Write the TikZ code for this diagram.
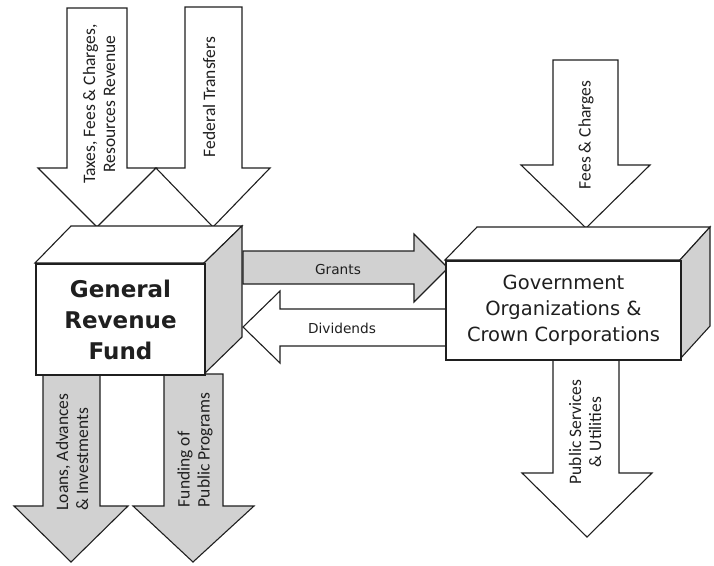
\documentclass[tikz,border=0pt]{standalone}
\usepackage{fontspec}
\newfontfamily\boxfont{DejaVu Sans}
\newfontfamily\arrfont{Carlito}
\definecolor{shade}{gray}{0.82}
\definecolor{ink}{gray}{0.12}
\tikzset{
  arr/.style={draw=ink, line width=1.1pt, line join=miter},
  whitearr/.style={arr, fill=white},
  grayarr/.style={arr, fill=shade},
  face/.style={draw=ink, line width=1.1pt, line join=miter},
  frontface/.style={draw=ink, line width=2pt, fill=white},
  rlabel/.style={rotate=90, font=\arrfont\fontsize{17.5}{20}\selectfont, text=ink, inner sep=0pt},
  hlabel/.style={font=\boxfont\fontsize{13.7}{16}\selectfont, text=ink, inner sep=0pt},
}
\begin{document}
\begin{tikzpicture}[x=1pt,y=-1pt]
\useasboundingbox (0,0) rectangle (714,565);
% incoming arrows
\draw[whitearr] (67,8) -- (127,8) -- (127,168) -- (156,168) -- (97,227) -- (38,168) -- (67,168) -- cycle;
\draw[whitearr] (185,7) -- (242,7) -- (242,168) -- (270,168) -- (213,227) -- (156,168) -- (185,168) -- cycle;
\draw[whitearr] (553,60) -- (618,60) -- (618,165) -- (650,165) -- (586,228) -- (521,165) -- (553,165) -- cycle;
% outgoing arrows
\draw[grayarr] (43,374) -- (100,374) -- (100,506) -- (128,506) -- (71,562) -- (14,506) -- (43,506) -- cycle;
\draw[grayarr] (164,374) -- (223,374) -- (223,506) -- (254,506) -- (193,562) -- (133,506) -- (164,506) -- cycle;
\draw[whitearr] (553,359) -- (619,359) -- (619,473) -- (652,473) -- (587,537) -- (522,473) -- (553,473) -- cycle;
% grants / dividends
\draw[grayarr] (243,251) -- (414,251) -- (414,234) -- (448,268) -- (414,302) -- (414,284) -- (243,284) -- cycle;
\draw[whitearr] (446,309) -- (280,309) -- (280,291) -- (243,327) -- (280,363) -- (280,346) -- (446,346) -- cycle;
% General Revenue Fund box
\draw[face, fill=white] (35,263) -- (71,226) -- (242,226) -- (204,263) -- cycle;
\draw[face, fill=shade] (204,263) -- (242,226) -- (242,337) -- (204,374) -- cycle;
\node[frontface, minimum width=169pt, minimum height=111pt, inner sep=0pt, anchor=north west,
  align=center, font=\boxfont\bfseries\fontsize{23}{31}\selectfont, text=ink] (grf) at (35,263)
  {General\\Revenue\\Fund};
% Government box
\draw[face, fill=white] (445,260) -- (477,227) -- (710,227) -- (680,260) -- cycle;
\draw[face, fill=shade] (680,260) -- (710,227) -- (710,326) -- (680,359) -- cycle;
\node[frontface, minimum width=235pt, minimum height=99pt, inner sep=0pt, anchor=north west,
  align=center, font=\boxfont\fontsize{19.5}{26}\selectfont, text=ink] (gov) at (445,260)
  {Government\\Organizations \&\\Crown Corporations};
% labels
\node[hlabel] (grants) at (338,270) {Grants};
\node[hlabel] (divs) at (342,328) {Dividends};
\node[rlabel, align=center] (taxes) at (99,104) {Taxes, Fees \& Charges,\\Resources Revenue};
\node[rlabel] (fed) at (209,97) {Federal Transfers};
\node[rlabel] (fees) at (586,135) {Fees \& Charges};
\node[rlabel, align=left] (loans) at (72,452) {Loans, Advances\\\& Investments};
\node[rlabel, align=left] (fund) at (195,450) {Funding of\\Public Programs};
\node[rlabel, align=center] (pub) at (585,432) {Public Services\\\& Utilities};
\end{tikzpicture}
\end{document}
